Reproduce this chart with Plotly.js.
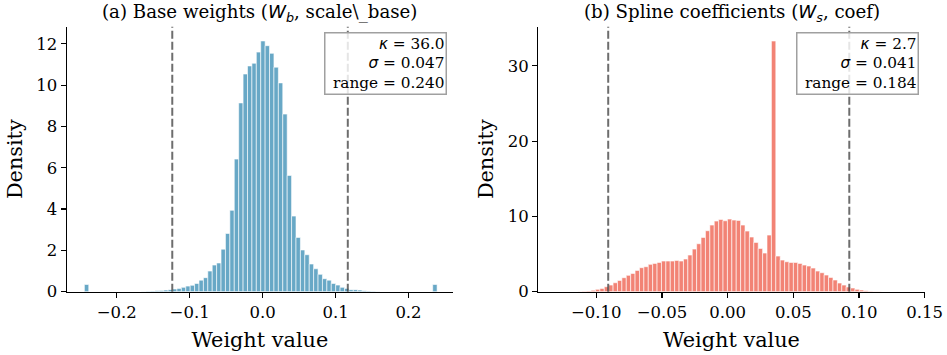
<!DOCTYPE html>
<html>
<head>
<meta charset="utf-8">
<script src="https://cdn.plot.ly/plotly-3.0.1.min.js"></script>
<style>
  body { margin: 0; background: white; }
  #chart { width: 947px; height: 355px; }
</style>
</head>
<body>
<div id="chart"></div>
<script>
// histogram bins (80 each), densities
const baseBinMin = -0.2443;
const baseBinMax = 0.2392;
const baseDensity = [
  0.35, 0, 0, 0, 0, 0, 0, 0, 0, 0,
  0, 0, 0, 0.01, 0.02, 0.03, 0.04, 0.06, 0.08, 0.10,
  0.13, 0.16, 0.21, 0.27, 0.31, 0.40, 0.56, 0.68, 1.00, 1.29,
  1.39, 2.06, 2.82, 3.94, 6.42, 9.14, 10.54, 10.93, 11.06, 11.60,
  12.14, 11.91, 11.54, 10.87, 10.11, 8.60, 5.63, 3.66, 2.63, 2.02,
  1.79, 1.34, 1.11, 0.84, 0.63, 0.56, 0.40, 0.32, 0.21, 0.16,
  0.10, 0.10, 0.08, 0.05, 0.03, 0.02, 0.01, 0, 0, 0,
  0, 0, 0, 0, 0, 0, 0, 0, 0, 0.35
];
const splineBinMin = -0.1307;
const splineBinMax = 0.1371;
const splineDensity = [
  0, 0, 0, 0, 0, 0.02, 0.05, 0.10, 0.18, 0.31,
  0.44, 0.66, 0.88, 1.19, 1.50, 1.86, 2.17, 2.43, 2.83, 3.19,
  3.32, 3.63, 3.76, 3.89, 4.07, 4.07, 4.07, 4.16, 4.07, 4.34,
  4.87, 5.66, 6.37, 7.21, 8.10, 8.85, 9.38, 9.60, 9.42, 9.65,
  9.51, 9.47, 8.85, 8.05, 7.26, 6.55, 5.75, 5.13, 7.52, 33.3,
  4.73, 4.20, 3.98, 3.89, 3.89, 3.76, 3.54, 3.41, 3.14, 2.74,
  2.52, 2.21, 1.90, 1.55, 1.15, 0.88, 0.62, 0.49, 0.31, 0.22,
  0.13, 0.07, 0.04, 0.02, 0, 0, 0, 0, 0, 0
];

// dashed lines (lower / upper cut) and stats box
const baseCuts = [-0.1238, 0.1168];
const splineCuts = [-0.0909, 0.0926];
const baseStats = ['36.0', '0.047', '0.240'];
const splineStats = ['2.7', '0.041', '0.184'];

const baseTicks = [-0.2, -0.1, 0.0, 0.1, 0.2];
const splineTicks = [-0.10, -0.05, 0.00, 0.05, 0.10, 0.15];

const blue = 'rgb(104,168,198)';
const salmon = 'rgb(242,131,117)';
const serif = 'DejaVu Serif, serif';

function histTrace(dens, lo, hi, color, xa, ya) {
  const w = (hi - lo) / dens.length;
  const xs = dens.map((d, i) => lo + (i + 0.5) * w);
  return {
    type: 'bar', x: xs, y: dens, width: dens.map(() => w),
    xaxis: xa, yaxis: ya,
    marker: { color: color, line: { color: 'white', width: 0.6 } },
    hoverinfo: 'x+y'
  };
}

function cutShapes(cuts, xref) {
  return cuts.map(c => ({
    type: 'line', xref: xref, yref: xref.replace('x', 'y') + ' domain',
    x0: c, x1: c, y0: 0, y1: 1,
    line: { color: 'rgba(60,60,60,0.75)', width: 2, dash: '8px,3px' }
  }));
}

function statsNote(s, xref, yref) {
  const m = t => '<span style="font-family:DejaVu Sans"><i>' + t + '</i></span>';
  return {
    xref: xref + ' domain', yref: yref + ' domain', x: 0.984, y: 0.981,
    xanchor: 'right', yanchor: 'top', align: 'right', showarrow: false,
    width: 118,
    text: m('κ') + ' = ' + s[0] + '<br>' + m('σ') + ' = ' + s[1] + '<br>range = ' + s[2],
    font: { family: serif, size: 15.3, color: 'black' },
    bgcolor: 'rgba(255,255,255,0.82)', bordercolor: '#a0a0a0', borderwidth: 1.5, borderpad: 1
  };
}

function titleNote(text, xref) {
  return {
    xref: xref + ' domain', yref: 'paper', x: 0.5, y: 1 - 13 / 355,
    xanchor: 'center', yanchor: 'middle', showarrow: false,
    text: text, font: { family: serif, size: 18.2, color: 'black' }
  };
}

const axisCommon = {
  showline: true, linecolor: 'black', linewidth: 1.2, mirror: false,
  ticks: 'outside', ticklen: 5, tickwidth: 1.2, tickcolor: 'black',
  showgrid: false, zeroline: false,
  tickfont: { family: serif, size: 16.5, color: 'black' }
};
const labelFont = { family: serif, size: 20.8, color: 'black' };

const yDomain = [1 - 291.7 / 355, 1 - 26.7 / 355];

const data = [
  histTrace(baseDensity, baseBinMin, baseBinMax, blue, 'x', 'y'),
  histTrace(splineDensity, splineBinMin, splineBinMax, salmon, 'x2', 'y2')
];

const wb = '<span style="font-family:DejaVu Sans"><i>W</i><sub><i>b</i></sub></span>';
const ws = '<span style="font-family:DejaVu Sans"><i>W</i><sub><i>s</i></sub></span>';

const layout = {
  width: 947, height: 355,
  margin: { l: 0, r: 0, t: 0, b: 0 },
  paper_bgcolor: 'white', plot_bgcolor: 'white',
  showlegend: false, bargap: 0,
  font: { family: serif, size: 15, color: 'black' },
  xaxis: Object.assign({}, axisCommon, {
    domain: [66.7 / 947, 453 / 947], range: [-0.2685, 0.2610],
    tickvals: baseTicks, tickformat: '.1f',
    title: { text: 'Weight value', font: labelFont, standoff: 11 }
  }),
  yaxis: Object.assign({}, axisCommon, {
    domain: yDomain, range: [0, 12.83], dtick: 2,
    title: { text: 'Density', font: labelFont, standoff: 8 }
  }),
  xaxis2: Object.assign({}, axisCommon, {
    domain: [538.3 / 947, 924.7 / 947], range: [-0.1441, 0.1500], anchor: 'y2',
    tickvals: splineTicks, tickformat: '.2f',
    title: { text: 'Weight value', font: labelFont, standoff: 11 }
  }),
  yaxis2: Object.assign({}, axisCommon, {
    domain: yDomain, range: [0, 35.2], dtick: 10, anchor: 'x2',
    title: { text: 'Density', font: labelFont, standoff: 8 }
  }),
  shapes: cutShapes(baseCuts, 'x').concat(cutShapes(splineCuts, 'x2')),
  annotations: [
    titleNote('(a) Base weights (' + wb + ', scale\\_base)', 'x'),
    titleNote('(b) Spline coefficients (' + ws + ', coef)', 'x2'),
    statsNote(baseStats, 'x', 'y'),
    statsNote(splineStats, 'x2', 'y2')
  ]
};

Plotly.newPlot('chart', data, layout, { displayModeBar: false, staticPlot: true });
</script>
</body>
</html>
